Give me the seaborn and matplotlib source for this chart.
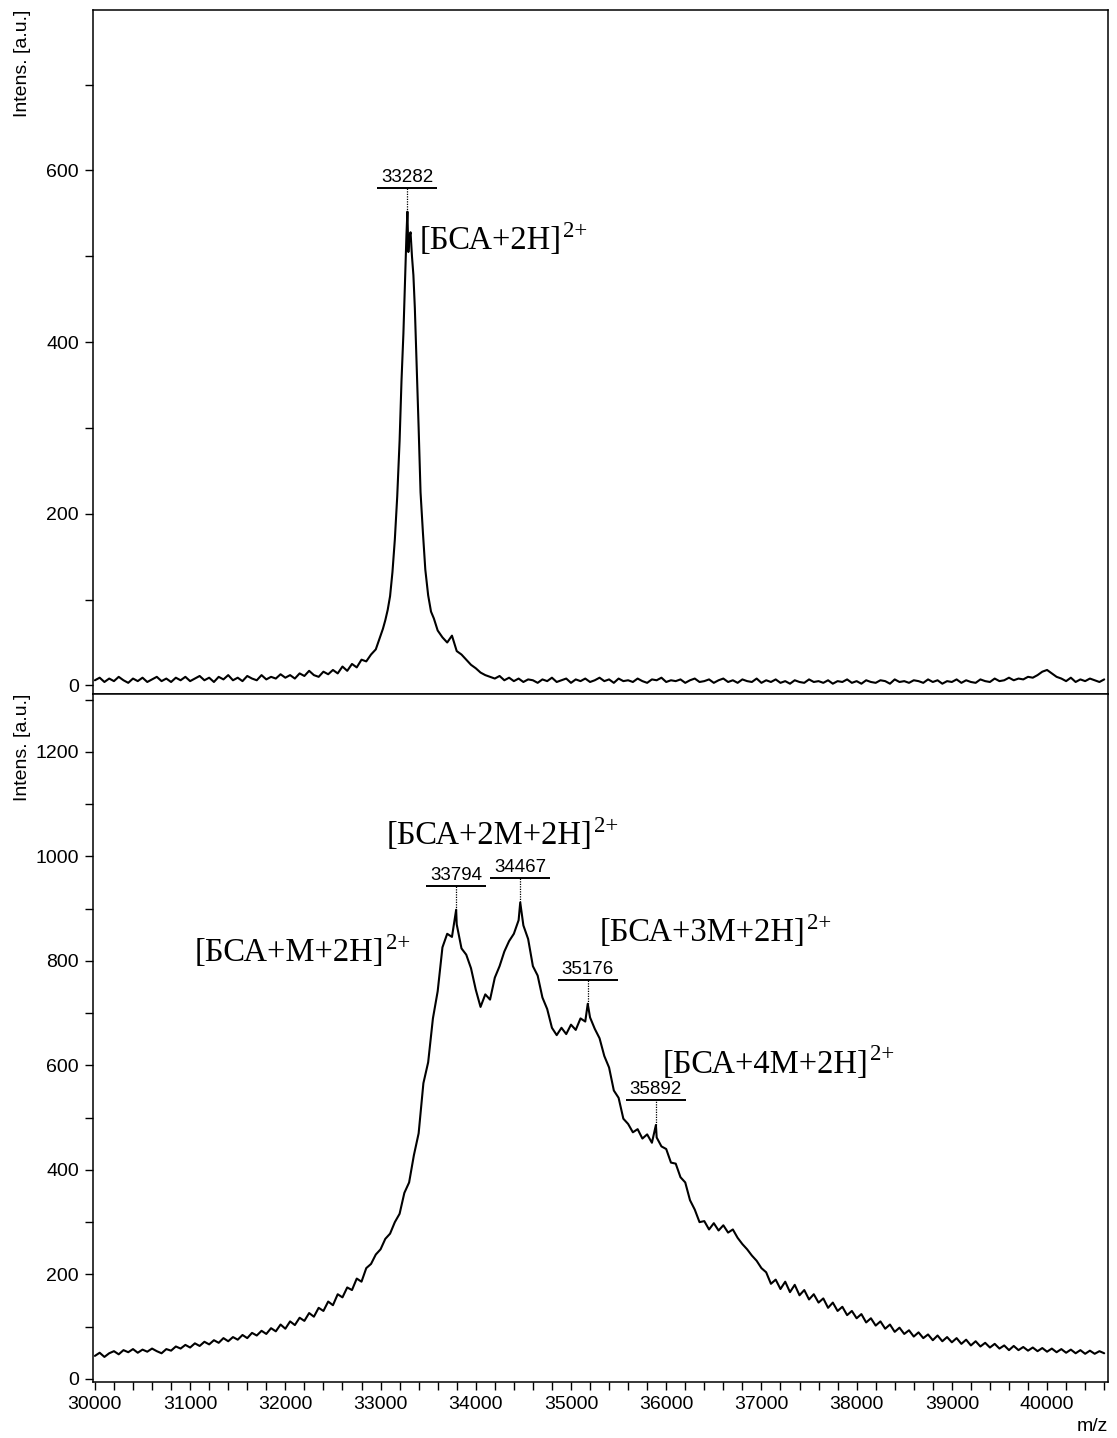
import numpy as np
import matplotlib
matplotlib.use("Agg")
import matplotlib.pyplot as plt
from matplotlib.ticker import MultipleLocator
from matplotlib.transforms import offset_copy
import seaborn as sns

sns.set_style("ticks", {"axes.edgecolor": "black", "xtick.color": "black",
                        "ytick.color": "black", "text.color": "black",
                        "axes.labelcolor": "black"})
plt.rcParams["font.family"] = ["Liberation Sans", "DejaVu Sans"]
plt.rcParams["axes.linewidth"] = 1.1

MZ_STEP = 50

# upper spectrum: BSA alone
top_left_start = 30000
top_left = [
    6, 9, 4, 8, 5, 10, 6, 3, 8, 5,
    9, 4, 7, 10, 5, 8, 4, 9, 6, 10,
    5, 8, 11, 6, 9, 4, 10, 7, 12, 6,
    9, 5, 11, 8, 6, 12, 7, 10, 8, 13,
    9, 12, 8, 14, 11, 17, 12, 10, 16, 13,
    18, 14, 22, 17, 25, 21, 30, 28, 36, 42,
]
top_peak_mz = [33000, 33025, 33050, 33075, 33100, 33125, 33150, 33175, 33200, 33220,
               33240, 33260, 33272, 33282, 33292, 33302, 33315, 33330, 33345, 33360,
               33380, 33400, 33420, 33445, 33470, 33500, 33530, 33560, 33600]
top_peak_int = [58, 66, 76, 88, 104, 132, 170, 220, 285, 355,
                410, 480, 525, 552, 505, 522, 528, 500, 478, 440,
                370, 300, 225, 178, 135, 105, 86, 78, 64]
top_right_start = 33650
top_right = [
    56, 50, 58, 40, 36, 30, 24, 20, 15, 12,
    10, 8, 11, 6, 9, 5, 8, 4, 7, 6,
    3, 7, 5, 9, 4, 6, 8, 3, 7, 5,
    8, 4, 6, 9, 5, 7, 3, 8, 5, 6,
    4, 8, 5, 3, 7, 6, 9, 4, 6, 5,
    7, 3, 6, 8, 4, 5, 7, 3, 6, 8,
    4, 6, 3, 7, 5, 4, 8, 3, 6, 4,
    7, 3, 5, 2, 6, 4, 3, 7, 4, 5,
    3, 6, 2, 5, 4, 7, 3, 5, 2, 6,
    4, 3, 6, 5, 2, 7, 4, 5, 3, 6,
    5, 3, 7, 4, 6, 2, 5, 4, 7, 3,
    6, 4, 3, 7, 5, 4, 8, 5, 6, 9,
    6, 8, 7, 10, 9, 12, 16, 18, 14, 10,
    8, 5, 9, 4, 7, 5, 8, 6, 4, 7,
]

# lower spectrum: BSA with modifier
bottom_start = 30000
bottom_int = [
    44, 50, 42, 49, 53, 47, 55, 51, 57, 50,
    56, 52, 58, 53, 49, 57, 54, 62, 58, 65,
    60, 68, 63, 71, 66, 74, 69, 78, 72, 80,
    75, 84, 78, 88, 83, 92, 86, 97, 91, 104,
    96, 110, 103, 117, 111, 126, 119, 136, 130, 148,
    141, 162, 156, 175, 170, 192, 186, 212, 220, 238,
    248, 268, 278, 300, 316, 356, 376, 428, 470, 566,
    606, 690, 742, 826, 852, 846, 870, 824, 812, 786,
    745, 712, 736, 726, 768, 790, 818, 838, 852, 878,
    868, 842, 790, 772, 730, 708, 672, 658, 672, 660,
    678, 668, 690, 684, 692, 670, 652, 618, 596, 552,
    538, 498, 488, 472, 478, 460, 468, 452, 462, 445,
    440, 414, 412, 386, 376, 342, 324, 300, 302, 286,
    298, 284, 294, 280, 286, 270, 258, 248, 236, 226,
    212, 204, 182, 190, 172, 186, 166, 180, 160, 170,
    152, 162, 146, 154, 136, 146, 130, 138, 122, 130,
    116, 124, 108, 116, 102, 110, 96, 104, 90, 98,
    86, 93, 81, 89, 78, 85, 74, 83, 72, 80,
    70, 78, 67, 75, 64, 72, 62, 69, 60, 67,
    58, 64, 55, 63, 55, 61, 54, 60, 53, 59,
    52, 58, 51, 57, 50, 56, 49, 55, 48, 54,
    48, 53, 49,
]
bottom_peak_mz = [33794, 34467, 35176, 35892]
bottom_peak_int = [898, 912, 718, 486]

top_labels = [33282]
bottom_labels = [33794, 34467, 35176, 35892]

top_ions = ["[БСА+2H]"]
bottom_ions = ["[БСА+M+2H]", "[БСА+2M+2H]", "[БСА+3M+2H]", "[БСА+4M+2H]"]
ion_charge = "2+"

# ion label anchors (left, baseline) in m/z and intensity
top_ion_xy = [(33414, 508)]
bottom_ion_xy = [(31050, 800), (33067, 1024), (35305, 838), (35966, 586)]

top_mz = np.concatenate([
    top_left_start + MZ_STEP * np.arange(len(top_left)),
    top_peak_mz,
    top_right_start + MZ_STEP * np.arange(len(top_right)),
])
top_int = np.concatenate([top_left, top_peak_int, top_right]).astype(float)

bot_mz = np.concatenate([bottom_start + MZ_STEP * np.arange(len(bottom_int)), bottom_peak_mz])
bot_int = np.concatenate([bottom_int, bottom_peak_int]).astype(float)
order = np.argsort(bot_mz)
bot_mz, bot_int = bot_mz[order], bot_int[order]

W, H, DPI = 1117, 1438, 100
fig = plt.figure(figsize=(W / DPI, H / DPI), dpi=DPI)
ax1 = fig.add_axes([93 / W, 1 - 694 / H, 1015 / W, 684 / H])
ax2 = fig.add_axes([93 / W, 1 - 1382 / H, 1015 / W, 688 / H], sharex=ax1)

sns.lineplot(x=top_mz, y=top_int, ax=ax1, color="black", linewidth=1.5)
sns.lineplot(x=bot_mz, y=bot_int, ax=ax2, color="black", linewidth=1.5)

ax1.set_xlim(29980, 40640)
ax1.set_ylim(-10, 787)
ax2.set_ylim(-6, 1311)

for ax in (ax1, ax2):
    ax.yaxis.set_major_locator(MultipleLocator(200))
    ax.yaxis.set_minor_locator(MultipleLocator(100))
    ax.tick_params(which="both", direction="out", length=6, width=1.0,
                   labelsize=14, pad=4)
    ax.set_ylabel("Intens. [a.u.]", fontsize=14, loc="top")
    ax.yaxis.set_label_coords(-0.061, 1.0)
    for s in ax.spines.values():
        s.set_linewidth(1.1)
        s.set_color("black")

ax2.xaxis.set_major_locator(MultipleLocator(1000))
ax2.xaxis.set_minor_locator(MultipleLocator(200))
ax1.tick_params(axis="x", which="both", bottom=False, labelbottom=False)
ax2.set_xlabel("m/z", fontsize=14, loc="right")
ax2.xaxis.set_label_coords(1.0, -0.052)


def label_peaks(ax, mz, inten, peaks, lift_px=24, half=315):
    y0, y1 = ax.get_ylim()
    h_px = ax.get_position().height * fig.get_figheight() * fig.dpi
    lift = lift_px * (y1 - y0) / h_px
    text_tr = offset_copy(ax.transData, fig=fig, y=1.5, units="points")
    for p in peaks:
        span = (mz >= p - half) & (mz <= p + half)
        bar_y = inten[span].max() + lift
        peak_y = inten[np.argmin(np.abs(mz - p))]
        ax.plot([p - half, p + half], [bar_y, bar_y], color="black", lw=1.4,
                solid_capstyle="butt")
        ax.plot([p, p], [peak_y, bar_y], color="black", lw=0.9, ls=(0, (1, 1)))
        ax.text(p, bar_y, f"{p}", ha="center", va="bottom", fontsize=13.5,
                transform=text_tr)


label_peaks(ax1, top_mz, top_int, top_labels)
label_peaks(ax2, bot_mz, bot_int, bottom_labels)

for ax, names, xy in ((ax1, top_ions, top_ion_xy), (ax2, bottom_ions, bottom_ion_xy)):
    for name, (x, y) in zip(names, xy):
        base = ax.text(x, y, name, family="Liberation Serif", fontsize=23.5,
                       ha="left", va="baseline")
        ax.annotate(ion_charge, xy=(1, 1), xycoords=base, xytext=(1, 3.5),
                    textcoords="offset points", family="Liberation Serif",
                    fontsize=16.5, ha="left", va="top")

fig.savefig("out.png", dpi=DPI)
